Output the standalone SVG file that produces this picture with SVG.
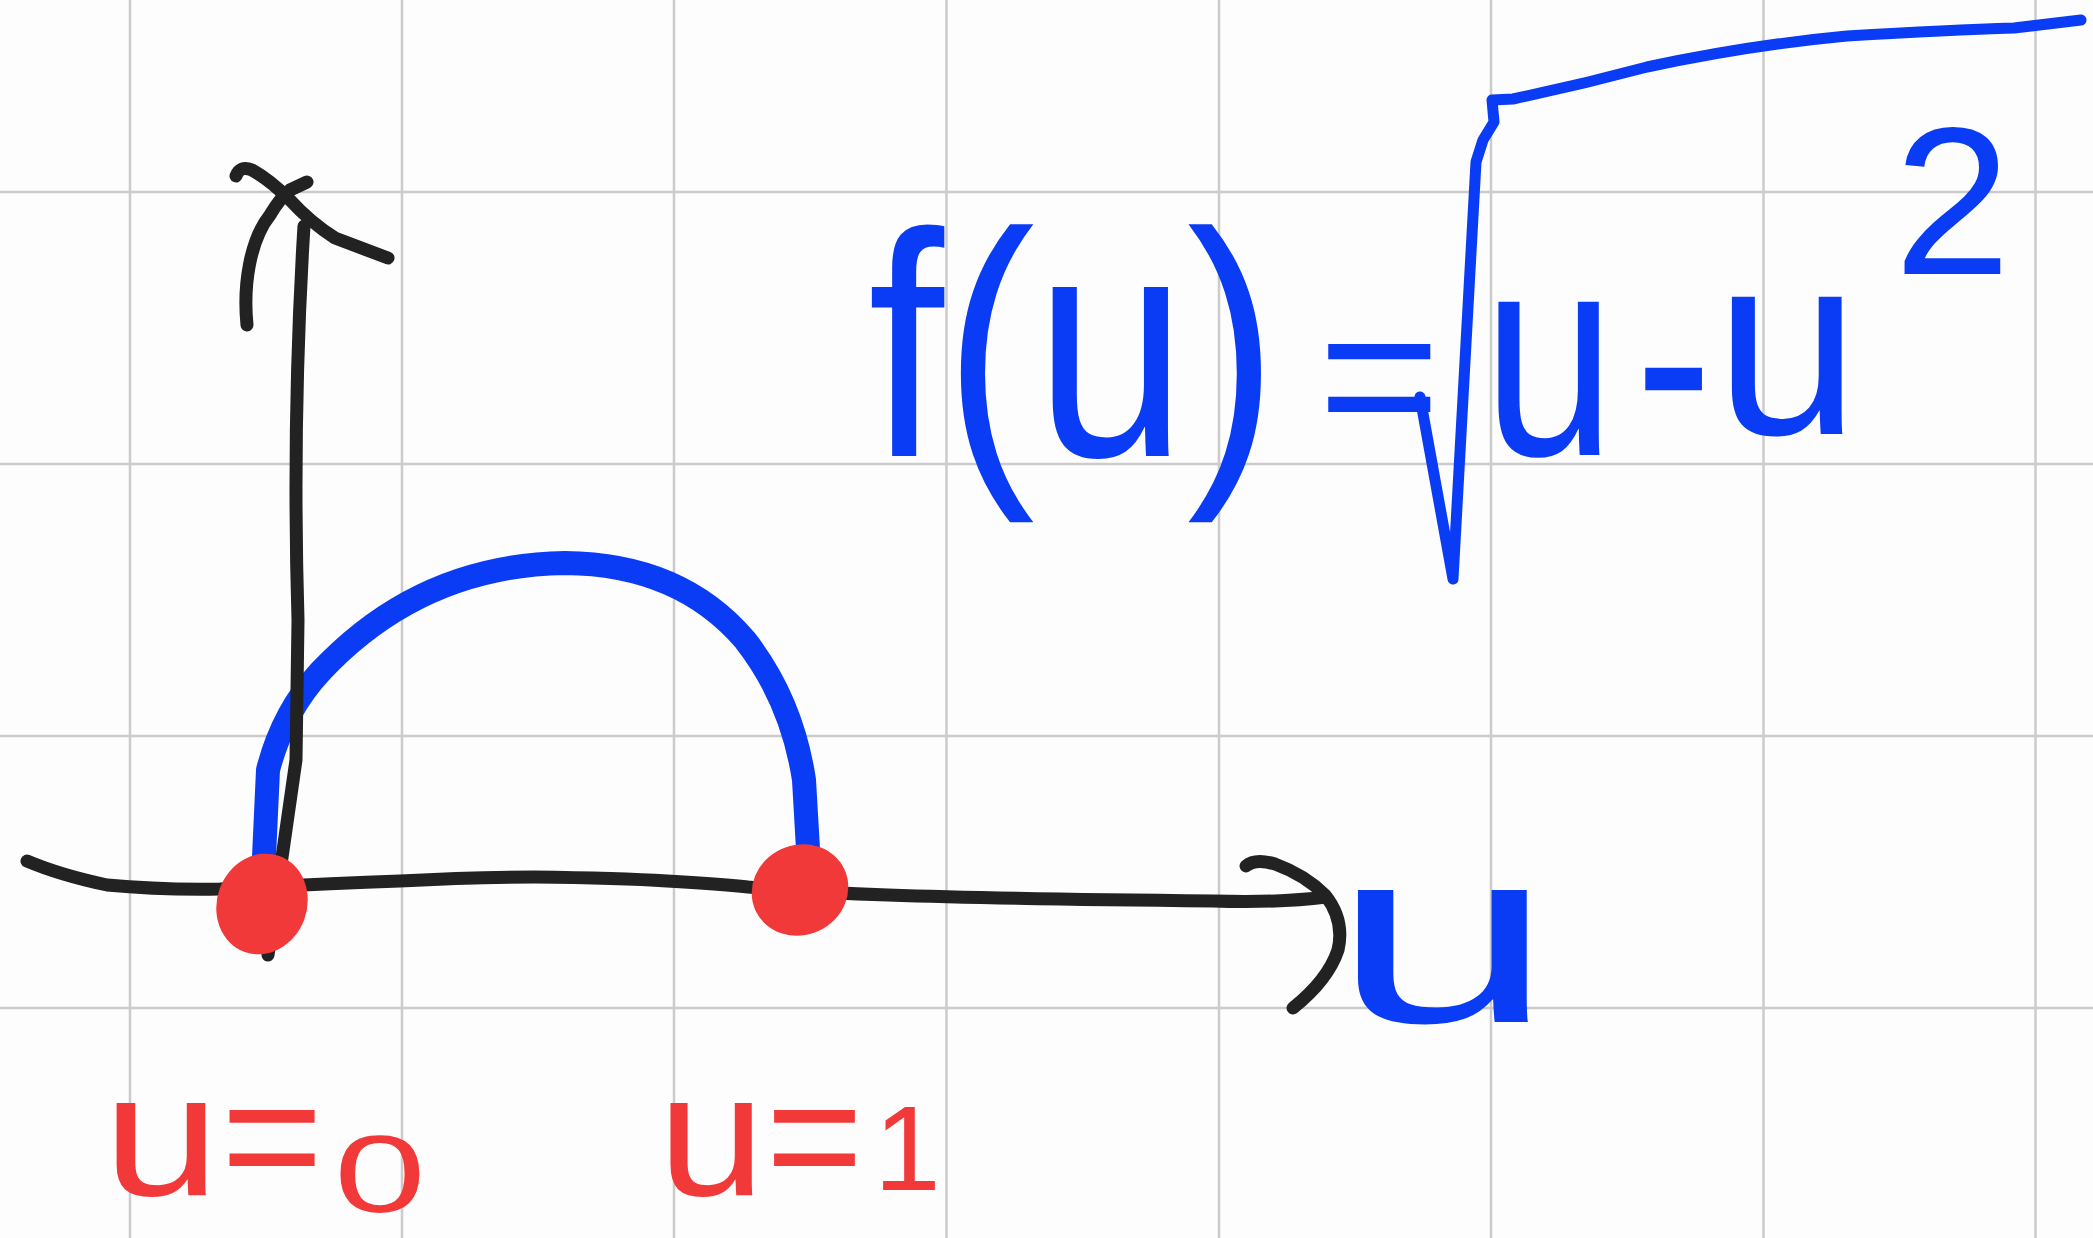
<svg xmlns="http://www.w3.org/2000/svg" width="2093" height="1238" viewBox="0 0 2093 1238">
<style>
.grid line{stroke:#cbcbcb;stroke-width:2.5}
.ink{fill:none;stroke:#222;stroke-width:13;stroke-linecap:round;stroke-linejoin:round}
.bl{fill:none;stroke:#0a3cf5;stroke-linecap:round;stroke-linejoin:round}
.bt{fill:#0a3cf5;font-family:"Liberation Sans",Arial,sans-serif}
.rt{fill:#f2393a;font-family:"Liberation Sans",Arial,sans-serif}
.dot{fill:#f2393a}
</style>
<rect width="2093" height="1238" fill="#fdfdfd"/>
<g class="grid">
<line x1="130" y1="0" x2="130" y2="1238"/>
<line x1="402" y1="0" x2="402" y2="1238"/>
<line x1="674" y1="0" x2="674" y2="1238"/>
<line x1="946.5" y1="0" x2="946.5" y2="1238"/>
<line x1="1219" y1="0" x2="1219" y2="1238"/>
<line x1="1491" y1="0" x2="1491" y2="1238"/>
<line x1="1763.5" y1="0" x2="1763.5" y2="1238"/>
<line x1="2035.5" y1="0" x2="2035.5" y2="1238"/>
<line x1="0" y1="192" x2="2093" y2="192"/>
<line x1="0" y1="464" x2="2093" y2="464"/>
<line x1="0" y1="736" x2="2093" y2="736"/>
<line x1="0" y1="1008" x2="2093" y2="1008"/>
</g>
<g id="curve">
<path class="bl" stroke-width="24" d="M264,857 L268,770 Q283,712 320,672 Q420,565 565,563 Q680,564 745,640 Q792,700 804,780 L808,849"/>
</g>
<g id="axes">
<path class="ink" d="M304,226 Q292,420 298,620 L296,760 L268,955"/>
<path class="ink" d="M247,325 C243,285 250,240 270,215 Q280,198 290,190 L307,182"/>
<path class="ink" d="M236,176 Q240,165 252,170 Q270,180 290,200 Q310,222 335,238 L388,258"/>
<path class="ink" d="M27,861 Q60,875 107,885 Q160,890 220,889 Q320,884 400,881 Q470,877 534,877 Q620,878 667,881 Q720,884 748,887 Q820,893 888,895 Q1000,899 1213,901 Q1280,903 1326,897"/>
<path class="ink" d="M1246,866 Q1255,858 1275,864 Q1305,875 1325,895 Q1345,920 1338,950 Q1328,980 1293,1008"/>
</g>
<g id="points">
<ellipse class="dot" cx="262" cy="904" rx="45" ry="51" transform="rotate(20 262 904)"/>
<ellipse class="dot" cx="800" cy="890" rx="49" ry="45" transform="rotate(-25 800 890)"/>
</g>
<g id="formula">
<text class="bt" font-size="320" transform="translate(868,456) scale(0.854,1)">f(u)</text>
<text class="bt" x="1318" y="447" font-size="210">=</text>
<path class="bl" stroke-width="11" d="M1420,397 L1453,579 L1476,162 L1483,140 L1494,122 L1492,100 L1513,99 Q1580,85 1647,67 Q1750,45 1847,36 Q1950,30 2014,28 L2081,20"/>
<text class="bt" font-size="290" transform="translate(1483,455) scale(0.82,1)">u</text>
<text class="bt" font-size="290" transform="translate(1635,456) scale(0.8,1)">-</text>
<text class="bt" x="1715" y="434" font-size="260">u</text>
<text class="bt" x="1894" y="274" font-size="210">2</text>
</g>
<g id="axis-label">
<text class="bt" font-size="250" transform="translate(1332,1022) scale(1.6,1)">u</text>
</g>
<g id="labels">
<text class="rt" font-size="175" transform="translate(103,1195) scale(1.2,1)">u</text>
<text class="rt" x="221" y="1195" font-size="175">=</text>
<text class="rt" font-size="110" transform="translate(334,1212) scale(1.5,1)">0</text>
<text class="rt" font-size="175" transform="translate(658,1195) scale(1.1,1)">u</text>
<text class="rt" font-size="175" transform="translate(766,1195) scale(0.95,1)">=</text>
<text class="rt" x="874" y="1190" font-size="120">1</text>
</g>
</svg>
